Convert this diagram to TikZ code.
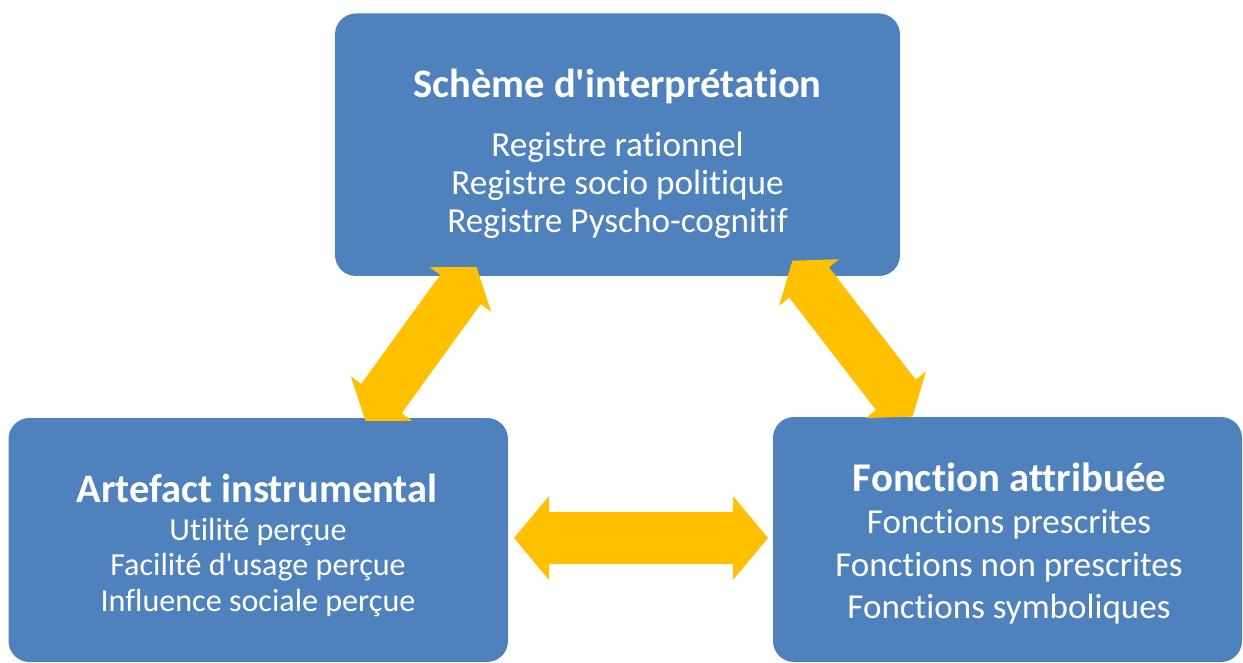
\documentclass[tikz,border=0pt]{standalone}
\usepackage{fontspec}
\setmainfont{Carlito}[Ligatures={TeXOff,NoCommon}]
\usetikzlibrary{calc}
\definecolor{boxblue}{HTML}{4F81BD}
\definecolor{arrowgold}{HTML}{FFC000}
% double block arrow between two named coordinates: #1,#2 tips, #3 head length, #4 head half-width, #5 shaft half-width
\newcommand\dblarrow[5]{%
  \fill[arrowgold] (#1)
    -- ($(#1)!#3!(#2)!#4!90:(#2)$)
    -- ($(#1)!#3!(#2)!#5!90:(#2)$)
    -- ($(#2)!#3!(#1)!#5!-90:(#1)$)
    -- ($(#2)!#3!(#1)!#4!-90:(#1)$)
    -- (#2)
    -- ($(#2)!#3!(#1)!#4!90:(#1)$)
    -- ($(#2)!#3!(#1)!#5!90:(#1)$)
    -- ($(#1)!#3!(#2)!#5!-90:(#2)$)
    -- ($(#1)!#3!(#2)!#4!-90:(#2)$)
    -- cycle;}
\begin{document}
\begin{tikzpicture}[x=1pt,y=-1pt,
  box/.style={fill=boxblue, draw=none, rounded corners=21pt, inner sep=0pt, outer sep=0pt, anchor=north west},
  txt/.style={text=white, anchor=base, inner sep=0pt},
  titleA/.style={txt, font=\bfseries\fontsize{40.5}{42}\selectfont},
  lineA/.style={txt, font=\fontsize{35.2}{38}\selectfont},
  titleB/.style={txt, font=\bfseries\fontsize{40.5}{42}\selectfont},
  lineB/.style={txt, font=\fontsize{32.1}{36}\selectfont},
  titleC/.style={txt, font=\bfseries\fontsize{40.8}{42}\selectfont},
  lineC/.style={txt, font=\fontsize{35}{38}\selectfont},
]
\useasboundingbox (0,0) rectangle (1243,663);

% boxes
\node[box, minimum width=565pt, minimum height=262.5pt] (top) at (335,13.5) {};
\node[box, minimum width=499.5pt, minimum height=244pt] (left) at (8.5,418) {};
\node[box, minimum width=469pt, minimum height=245pt] (right) at (773,417) {};

% top box text
\node[titleA] (t0) at (617.5,98) {Schème d'interprétation};
\node[lineA] (t1) at (617.5,157) {Registre rationnel};
\node[lineA] (t2) at (617.5,195) {Registre socio politique};
\node[lineA] (t3) at (617.5,233) {Registre Pyscho-cognitif};

% left box text
\node[titleB] (l0) at (257,502) {Artefact instrumental};
\node[lineB] (l1) at (258,540) {Utilité perçue};
\node[lineB] (l2) at (258,575.5) {Facilité d'usage perçue};
\node[lineB] (l3) at (258,611) {Influence sociale perçue};

% right box text
\node[titleC] (r0) at (1009.5,491) {Fonction attribuée};
\node[lineC] (r1) at (1009,533.3) {Fonctions prescrites};
\node[lineC] (r2) at (1009,576) {Fonctions non prescrites};
\node[lineC] (r3) at (1009,618.5) {Fonctions symboliques};

% arrow ends
\coordinate (la1) at (365.4,420.8);
\coordinate (la2) at (476.6,267.2);
\coordinate (ra1) at (792.4,260.7);
\coordinate (ra2) at (912.6,416.6);
\coordinate (ha1) at (514,538);
\coordinate (ha2) at (768,538);

\dblarrow{la1}{la2}{27.5pt}{38pt}{25pt}
\dblarrow{ra1}{ra2}{27.5pt}{38pt}{25pt}
\dblarrow{ha1}{ha2}{35pt}{42pt}{26pt}
\end{tikzpicture}
\end{document}
